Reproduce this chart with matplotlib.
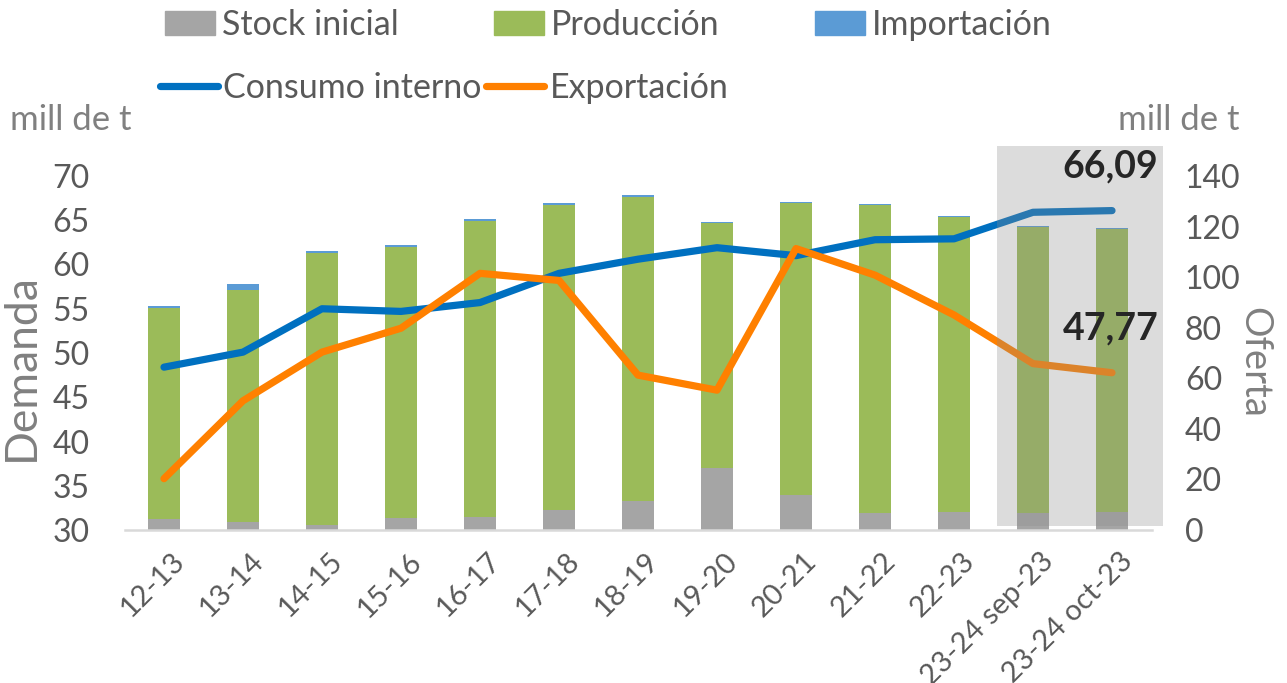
import matplotlib
matplotlib.use('Agg')
import matplotlib.pyplot as plt
import matplotlib.transforms as mtransforms
from matplotlib.patches import Rectangle, Patch
from matplotlib.lines import Line2D
import numpy as np

categories = ['12-13', '13-14', '14-15', '15-16', '16-17', '17-18', '18-19',
              '19-20', '20-21', '21-22', '22-23', '23-24 sep-23', '23-24 oct-23']
stock_inicial = [4.2, 3.3, 2.0, 4.6, 5.0, 7.9, 11.6, 24.4, 13.8, 6.6, 7.0, 6.6, 7.0]
produccion = [83.7, 91.8, 107.4, 107.5, 117.3, 120.6, 120.2, 97.0, 115.4, 121.9, 116.8, 113.2, 112.0]
importacion = [0.8, 2.0, 0.9, 0.7, 0.7, 0.7, 0.5, 0.5, 0.6, 0.5, 0.5, 0.6, 0.6]
consumo_interno = [48.4, 50.1, 55.0, 54.7, 55.7, 59.0, 60.6, 61.9, 61.0, 62.8, 62.9, 65.9, 66.09]
exportacion = [35.8, 44.6, 50.1, 52.8, 59.0, 58.2, 47.5, 45.8, 61.8, 58.8, 54.3, 48.8, 47.77]
left_ticks = [30, 35, 40, 45, 50, 55, 60, 65, 70]
right_ticks = [0, 20, 40, 60, 80, 100, 120, 140]

FONT = 'Lato'
plt.rcParams['font.family'] = [FONT, 'DejaVu Sans']
TICK_C = '#595959'
LAB_C = '#808080'
C_STOCK = '#A5A5A5'
C_PROD = '#9BBB59'
C_IMP = '#5B9BD5'
C_CONS = '#0070C0'
C_EXP = '#FF8000'

W, H = 1287, 683
fig = plt.figure(figsize=(W / 100, H / 100), dpi=100)
axb = fig.add_axes([124.5 / W, 1 - 530 / H, (1151.5 - 124.5) / W, 354 / H])
axl = axb.twinx()

x = np.arange(len(categories))
bw = 0.4
s = np.array(stock_inicial)
p = np.array(produccion)
im = np.array(importacion)
axb.bar(x, s, bw, color=C_STOCK, zorder=2)
axb.bar(x, p, bw, bottom=s, color=C_PROD, zorder=2)
axb.bar(x, im, bw, bottom=s + p, color=C_IMP, zorder=2)
axb.set_ylim(0, 140)
axb.set_xlim(-0.5, len(categories) - 0.5)
axb.set_yticks(right_ticks)
axb.yaxis.tick_right()
axb.tick_params(axis='y', which='both', left=False, right=False, labelleft=False,
                labelright=True, length=0, pad=24, labelsize=23, labelcolor=TICK_C)
axb.set_xticks(x)
axb.set_xticklabels(categories, rotation=45, ha='right', va='top',
                    rotation_mode='anchor', fontsize=21, color=TICK_C)
axb.tick_params(axis='x', length=0, pad=13)
shift = mtransforms.ScaledTranslation(7 / 100, 0, fig.dpi_scale_trans)
for lab in axb.get_xticklabels():
    lab.set_transform(lab.get_transform() + shift)
for sp in ['top', 'left', 'right']:
    axb.spines[sp].set_visible(False)
axb.spines['bottom'].set_color('#D9D9D9')
axb.spines['bottom'].set_linewidth(1.8)

axl.plot(x, consumo_interno, color=C_CONS, lw=5.2, solid_capstyle='round', zorder=3)
axl.plot(x, exportacion, color=C_EXP, lw=5.2, solid_capstyle='round', zorder=3)
axl.set_ylim(30, 70)
axl.set_yticks(left_ticks)
axl.yaxis.tick_left()
axl.tick_params(axis='y', which='both', left=False, right=False, labelleft=True,
                labelright=False, length=0, pad=25, labelsize=23, labelcolor=TICK_C)
for sp in axl.spines.values():
    sp.set_visible(False)

fig.text(21 / W, 1 - 367 / H, 'Demanda', rotation=90, fontsize=32, color=LAB_C,
         ha='center', va='center')
fig.text(1254 / W, 1 - 362 / H, 'Oferta', rotation=270, fontsize=27.5, color=LAB_C,
         ha='center', va='center')

# highlight box over the last two categories
trans = mtransforms.blended_transform_factory(axl.transData, axl.transAxes)
rect = Rectangle((10.55, 0.01), 2.1, 1.075, transform=trans, facecolor='#8C8C8C',
                 alpha=0.3, edgecolor='none', clip_on=False, zorder=5)
axl.add_patch(rect)

for val in (consumo_interno[-1], exportacion[-1]):
    axl.annotate(f'{val:.2f}'.replace('.', ','), xy=(x[-1], val), xytext=(-1, 32),
                 textcoords='offset points', ha='center', va='center',
                 fontsize=27, fontweight='bold', color='#262626', zorder=6)

fig.text(10 / W, 1 - 120 / H, 'mill de t', fontsize=25, color=LAB_C, va='center', ha='left')
fig.text(1240 / W, 1 - 120 / H, 'mill de t', fontsize=25, color=LAB_C, va='center', ha='right')

h1 = [Patch(color=C_STOCK), Patch(color=C_PROD), Patch(color=C_IMP)]
l1 = ['Stock inicial', 'Producción', 'Importación']
h2 = [Line2D([], [], color=C_CONS, lw=5.2, solid_capstyle='round'),
      Line2D([], [], color=C_EXP, lw=5.2, solid_capstyle='round')]
l2 = ['Consumo interno', 'Exportación']
leg1 = fig.legend(h1, l1, ncol=3, loc='center left', bbox_to_anchor=(165 / W, 1 - 25 / H),
                  frameon=False, fontsize=24.5, handlelength=1.47, handleheight=0.7,
                  handletextpad=0.2, columnspacing=2.8, borderpad=0, borderaxespad=0)
for t in leg1.get_texts():
    t.set_color(TICK_C)
leg2 = fig.legend(h2, l2, ncol=2, loc='center left', bbox_to_anchor=(160 / W, 1 - 88 / H),
                  frameon=False, fontsize=24.5, handlelength=1.7,
                  handletextpad=0.15, columnspacing=0.15, borderpad=0, borderaxespad=0)
for t in leg2.get_texts():
    t.set_color(TICK_C)

fig.savefig('out.png', dpi=100)
